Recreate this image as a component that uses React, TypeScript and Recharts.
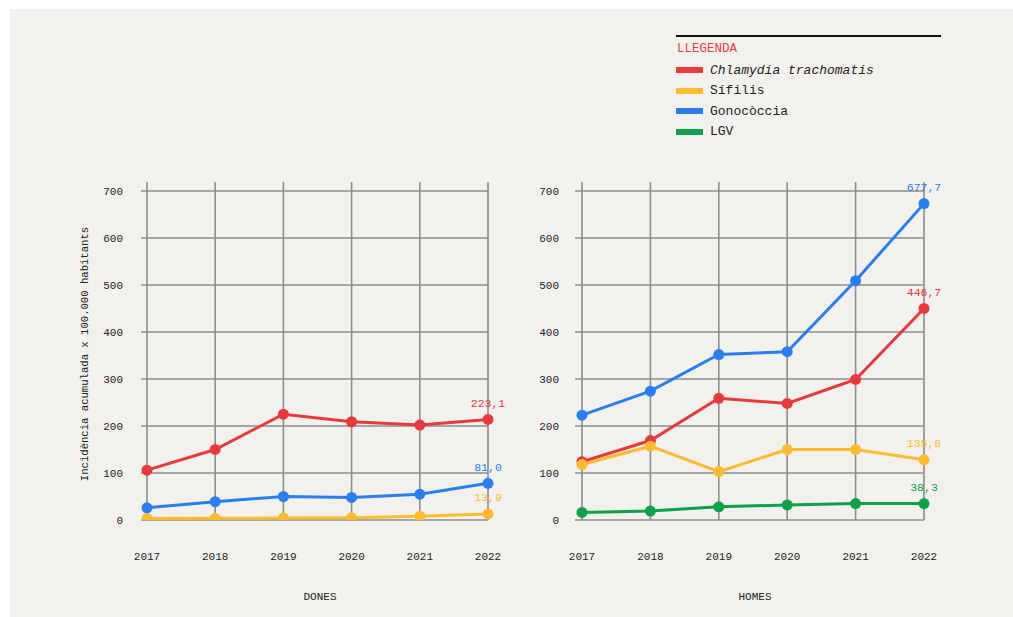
import { LineChart, Line, XAxis, YAxis, ReferenceLine } from "recharts";

const YEARS = [2017, 2018, 2019, 2020, 2021, 2022];
const Y_TICKS = [0, 100, 200, 300, 400, 500, 600, 700];

// Dones
const donesChlamydia = [106, 150, 225, 209, 202, 214];
const donesSifilis = [3, 3.5, 4, 5, 8, 13];
const donesGonococcia = [26, 39, 50, 48, 55, 78];

// Homes
const homesChlamydia = [124, 169, 259, 248, 299, 450];
const homesSifilis = [118, 157, 103, 150, 150, 128];
const homesGonococcia = [223, 274, 352, 358, 509, 673];
const homesLgv = [16, 19, 28, 32, 35, 35];

// labels shown at the 2022 point
const donesLastLabels = { chlamydia: "223,1", sifilis: "13,9", gonococcia: "81,0" };
const homesLastLabels = { chlamydia: "446,7", sifilis: "135,8", gonococcia: "677,7", lgv: "38,3" };

const SERIES = [
  { key: "chlamydia", name: "Chlamydia trachomatis", color: "#e63a3c", italic: true },
  { key: "sifilis", name: "Sífilis", color: "#fcbb30", italic: false },
  { key: "gonococcia", name: "Gonocòccia", color: "#2a7ff0", italic: false },
  { key: "lgv", name: "LGV", color: "#0fa14a", italic: false },
];

const FONT = "'Liberation Mono', 'DejaVu Sans Mono', monospace";
const GRID = "#8d8d8d";

const donesData = YEARS.map((year, i) => ({
  year,
  chlamydia: donesChlamydia[i],
  sifilis: donesSifilis[i],
  gonococcia: donesGonococcia[i],
}));

const homesData = YEARS.map((year, i) => ({
  year,
  chlamydia: homesChlamydia[i],
  sifilis: homesSifilis[i],
  gonococcia: homesGonococcia[i],
  lgv: homesLgv[i],
}));

function lastLabel(text: string, color: string) {
  return (props: any) => {
    if (props.index !== YEARS.length - 1) return <g />;
    return (
      <text
        x={props.x}
        y={props.y - 16}
        textAnchor="middle"
        dominantBaseline="central"
        fontFamily={FONT}
        fontSize={11.5}
        fill={color}
      >
        {text}
      </text>
    );
  };
}

function Panel({
  data,
  labels,
  left,
  yWidth,
  plotWidth,
  padLeft,
  tickMargin,
}: {
  data: any[];
  labels: Record<string, string>;
  left: number;
  yWidth: number;
  plotWidth: number;
  padLeft: number;
  tickMargin: number;
}) {
  const keys = SERIES.filter((s) => s.key in data[0]);
  return (
    <div style={{ position: "absolute", left, top: 151 }}>
      <LineChart
        width={yWidth + plotWidth + 40}
        height={419}
        data={data}
        margin={{ top: 31, right: 40, bottom: 0, left: 0 }}
      >
        <XAxis
          dataKey="year"
          type="number"
          domain={[2017, 2022]}
          ticks={YEARS}
          padding={{ left: padLeft, right: 0 }}
          axisLine={false}
          tickLine={false}
          tickMargin={26}
          height={50}
          tick={{ fontFamily: FONT, fontSize: 11, fill: "#222" }}
        />
        <YAxis
          type="number"
          domain={[0, 719]}
          ticks={Y_TICKS}
          allowDataOverflow
          axisLine={false}
          tickLine={false}
          width={yWidth}
          tickMargin={tickMargin}
          tick={{ fontFamily: FONT, fontSize: 11, fill: "#222" }}
        />
        {/* grid */}
        {YEARS.map((yr) => (
          <ReferenceLine key={`x${yr}`} x={yr} stroke={GRID} strokeWidth={1.6} />
        ))}
        {Y_TICKS.map((t) => (
          <ReferenceLine key={`y${t}`} y={t} stroke={GRID} strokeWidth={1.6} />
        ))}
        {keys.map((s) => (
          <Line
            key={s.key}
            dataKey={s.key}
            stroke={s.color}
            strokeWidth={3}
            dot={{ r: 5.5, fill: s.color, stroke: "none" }}
            activeDot={false}
            isAnimationActive={false}
            label={lastLabel(labels[s.key], s.color)}
          />
        ))}
      </LineChart>
    </div>
  );
}

export default function App() {
  return (
    <div style={{ position: "absolute", left: 0, top: 0, width: 1013, height: 617, fontFamily: FONT }}>
      <div
        style={{
          position: "absolute",
          left: 10,
          top: 9,
          width: 1003,
          height: 608,
          background: "#f2f1ee",
        }}
      />
      {/* legend */}
      <div style={{ position: "absolute", left: 676, top: 35, width: 265, height: 2, background: "#111" }} />
      <div
        style={{
          position: "absolute",
          left: 677,
          top: 41,
          fontSize: 12.5,
          color: "#e8404a",
          lineHeight: "16px",
        }}
      >
        LLEGENDA
      </div>
      {SERIES.map((s, i) => (
        <div
          key={s.key}
          style={{ position: "absolute", left: 676, top: 62 + i * 20.5, height: 16, display: "flex", alignItems: "center" }}
        >
          <div style={{ width: 27, height: 6, background: s.color, marginRight: 7 }} />
          <span style={{ fontSize: 13, color: "#222", fontStyle: s.italic ? "italic" : "normal" }}>{s.name}</span>
        </div>
      ))}

      <Panel data={donesData} labels={donesLastLabels} left={90} yWidth={51} plotWidth={347} padLeft={6} tickMargin={12} />
      <Panel data={homesData} labels={homesLastLabels} left={520} yWidth={55} plotWidth={349} padLeft={7} tickMargin={10} />

      <div
        style={{
          position: "absolute",
          left: 85,
          top: 354,
          transform: "translate(-50%, -50%) rotate(-90deg)",
          whiteSpace: "nowrap",
          fontSize: 10.6,
          color: "#222",
        }}
      >
        Incidència acumulada x 100.000 habitants
      </div>
      <div style={{ position: "absolute", left: 320, top: 597, transform: "translate(-50%, -50%)", fontSize: 11, color: "#222" }}>
        DONES
      </div>
      <div style={{ position: "absolute", left: 755, top: 597, transform: "translate(-50%, -50%)", fontSize: 11, color: "#222" }}>
        HOMES
      </div>
    </div>
  );
}
